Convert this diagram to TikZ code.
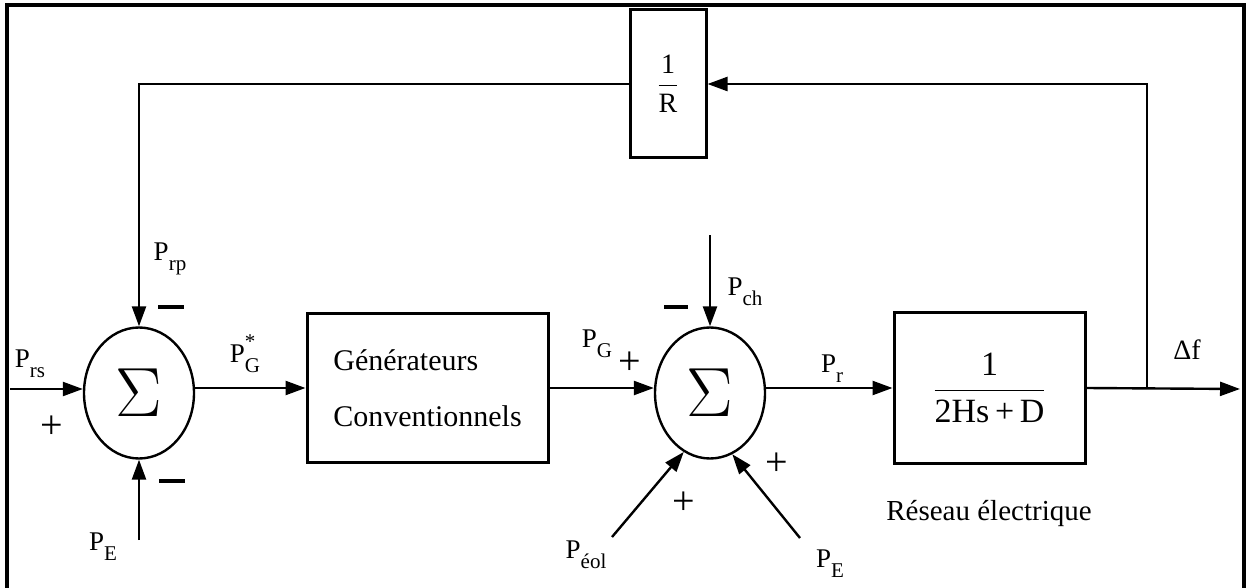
\documentclass[tikz,border=0pt]{standalone}
\usepackage{fontspec}
\setmainfont{Liberation Serif}
\usepackage{amsmath}
\usepackage{graphicx}
\usetikzlibrary{arrows.meta, positioning, shapes.geometric, calc}

\newcommand{\subsz}{\fontsize{10.5}{12}\selectfont}
\newcommand{\pwr}[1]{P\raisebox{-5pt}{\subsz #1}}

\begin{document}
\begin{tikzpicture}[x=0.5pt, y=-0.5pt, line width=1.2pt,
  >={Triangle[length=10pt,width=7pt]},
  block/.style={draw, rectangle, line width=1.5pt, inner sep=0pt},
  sumnode/.style={draw, ellipse, line width=1.2pt, minimum width=55pt, minimum height=65.5pt, inner sep=0pt, font=\fontsize{34}{34}\selectfont},
  sig/.style={font=\fontsize{13.5}{16}\selectfont, inner sep=0pt},
  plus/.style={font=\fontsize{20}{20}\selectfont, inner sep=0pt},
  minus/.style={inner sep=0pt}]
  \useasboundingbox (0,0) rectangle (1251,588);
  % cadre
  \draw[line width=2pt] (7,590) -- (7,5) -- (1244,5) -- (1244,590);

  % blocs
  \node[sumnode] (sum1) at (139,393) {\scalebox{1.4}{$\Sigma$}};
  \node[sumnode] (sum2) at (710,393) {\scalebox{1.4}{$\Sigma$}};
  \node[block, minimum width=120.5pt, minimum height=74.5pt, align=left, font=\fontsize{15}{28}\selectfont] (gen) at (427.5,388) {Générateurs\\Conventionnels};
  \node[block, minimum width=95.5pt, minimum height=75.5pt, font=\fontsize{17}{20}\selectfont] (reseau) at (989.5,388) {$\dfrac{\text{1}}{\text{2Hs\,+\,D}}$};
  \node[block, minimum width=38pt, minimum height=74pt, font=\fontsize{14}{16}\selectfont] (invR) at (668,84) {$\dfrac{\text{1}}{\text{R}}$};
  \node[font=\fontsize{14.5}{16}\selectfont] (lres) at (989,513) {Réseau électrique};

  % entrees et sorties
  \coordinate (prs) at (10,389);
  \coordinate (pe1) at (139,540);
  \coordinate (pch) at (710,235);
  \coordinate (peol) at (612,537);
  \coordinate (pe2) at (800,538);
  \coordinate (br) at (1147,389);
  \coordinate (out) at (1240,389);

  \draw[->] (prs) -- (prs -| sum1.west);
  \draw[->] (sum1.east |- gen.west) -- (gen.west);
  \draw[->] (gen.east) -- (gen.east -| sum2.west);
  \draw[->] (sum2.east |- reseau.west) -- (reseau.west);
  \draw[->] (reseau.east) -- (out);
  \draw[->] (br) |- (invR.east);
  \draw[->] (invR.west) -| (sum1.north);
  \draw[->] (pe1) -- (sum1.south);
  \draw[->] (pch) -- (sum2.north);
  \draw[->] (peol) -- (sum2.246);
  \draw[->] (pe2) -- (sum2.290);

  % etiquettes
  \node[sig] (lprs) at (30,364) {\pwr{rs}};
  \node[sig] (lprp) at (170,259) {\pwr{rp}};
  \node[sig] (lpe1) at (103,547) {\pwr{E}};
  \node[sig] (lpgs) at (245,354) {P\makebox[0pt][l]{\raisebox{7pt}{\subsz *}}\raisebox{-5pt}{\subsz G}};
  \node[sig] (lpg) at (597,344) {\pwr{G}};
  \node[sig] (lpch) at (745,292) {\pwr{ch}};
  \node[sig] (lpr) at (832,369) {\pwr{r}};
  \node[sig] (lpeol) at (586,555) {\pwr{éol}};
  \node[sig] (lpe2) at (830,564) {\pwr{E}};
  \node[sig, font=\fontsize{14}{16}\selectfont] (ldf) at (1187,350) {Δf};

  % signes
  \node[plus] (s1) at (52,427) {+};
  \node[minus] (s2) at (171,307) {\rule{13pt}{2pt}};
  \node[minus] (s3) at (172,481) {\rule{13pt}{2pt}};
  \node[plus] (s4) at (630,363) {+};
  \node[minus] (s5) at (676,307) {\rule{12pt}{2pt}};
  \node[plus] (s6) at (684,503) {+};
  \node[plus] (s7) at (777,464) {+};
\end{tikzpicture}
\end{document}
